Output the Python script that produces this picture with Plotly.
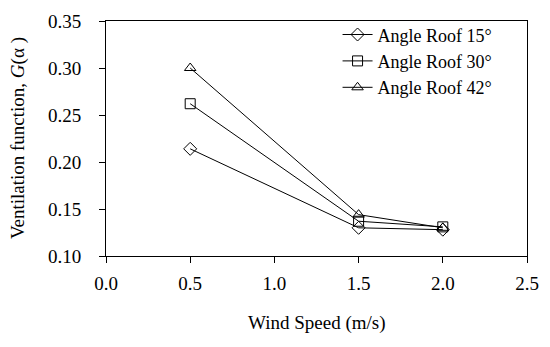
import plotly.graph_objects as go

wind_speed = [0.5, 1.5, 2.0]
roof_15 = [0.214, 0.130, 0.128]
roof_30 = [0.262, 0.137, 0.131]
roof_42 = [0.300, 0.144, 0.130]
series_names = ["Angle Roof 15°", "Angle Roof 30°", "Angle Roof 42°"]
symbols = ["diamond-open", "square-open", "triangle-up-open"]

font = dict(family="Liberation Serif", size=19, color="black")
legend_font = dict(family="Liberation Serif", size=18, color="black")

fig = go.Figure()
for name, vals, sym in zip(series_names, [roof_15, roof_30, roof_42], symbols):
    fig.add_trace(go.Scatter(
        x=wind_speed, y=vals, mode="lines+markers", name=name,
        line=dict(color="black", width=1),
        marker=dict(symbol=sym, size=10, color="black", line=dict(color="black", width=1)),
    ))

fig.update_layout(
    width=550, height=347,
    margin=dict(l=106, r=22, t=11, b=91),
    paper_bgcolor="white", plot_bgcolor="white",
    font=font,
    showlegend=True,
    legend=dict(x=0.55, y=1.02, xanchor="left", yanchor="top",
                bgcolor="rgba(0,0,0,0)", font=legend_font, tracegroupgap=0,
                itemwidth=30),
    xaxis=dict(range=[0, 2.5], tickvals=[0, 0.5, 1.0, 1.5, 2.0, 2.5],
               ticktext=["0.0", "0.5", "1.0", "1.5", "2.0", "2.5"],
               showline=True, linecolor="black", linewidth=1, mirror=True,
               ticks="outside", ticklen=6, tickcolor="black", showgrid=False,
               zeroline=False, tickfont=font, ticklabelstandoff=4),
    yaxis=dict(range=[0.10, 0.35], tickvals=[0.10, 0.15, 0.20, 0.25, 0.30, 0.35],
               ticktext=["0.10", "0.15", "0.20", "0.25", "0.30", "0.35"],
               showline=True, linecolor="black", linewidth=1, mirror=True,
               ticks="outside", ticklen=6, tickcolor="black", showgrid=False,
               zeroline=False, tickfont=font, ticklabelstandoff=14),
    annotations=[
        dict(text="Wind Speed (m/s)", xref="paper", yref="paper", x=0.5, y=-0.286,
             xanchor="center", yanchor="middle", showarrow=False, font=font),
        dict(text="Ventilation function, <i>G</i>(α )", xref="paper", yref="paper",
             x=-0.21, y=0.5, xanchor="center", yanchor="middle", textangle=-90,
             showarrow=False, font=font),
    ],
)

fig.write_html("out.html")
